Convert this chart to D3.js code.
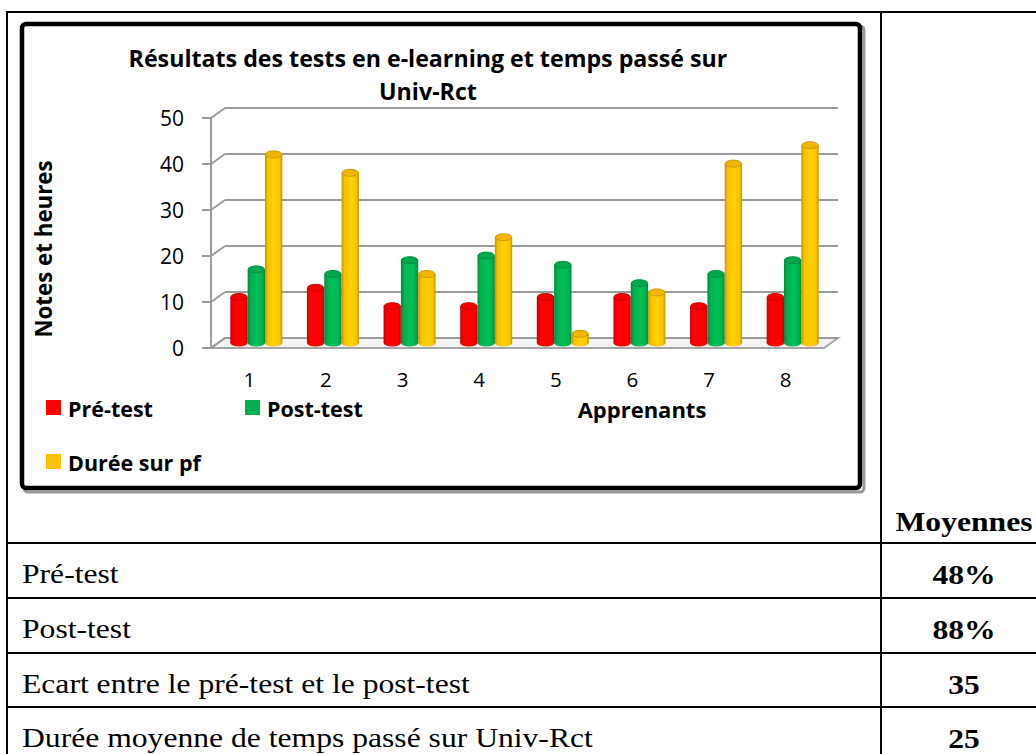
<!DOCTYPE html>
<html>
<head>
<meta charset="utf-8">
<script src="https://cdn.jsdelivr.net/npm/d3@7"></script>
<style>
  body { margin: 0; background: #fff; }
  svg { display: block; }
</style>
</head>
<body>
<svg id="page" width="1036" height="754"></svg>
<script>
// data
var apprenants = ["1", "2", "3", "4", "5", "6", "7", "8"];
var preTest  = [10, 12, 8, 8, 10, 10, 8, 10];
var postTest = [16, 15, 18, 19, 17, 13, 15, 18];
var duree    = [41, 37, 15, 23, 2, 11, 39, 43];
var seriesNames = ["Pré-test", "Post-test", "Durée sur pf"];
var seriesColours = ["#ff0000", "#00b050", "#ffc000"];
var yTicks = [0, 10, 20, 30, 40, 50];
var tableLabels = ["Pré-test", "Post-test", "Ecart entre le pré-test et le post-test",
                   "Durée moyenne de temps passé sur Univ-Rct"];
var tableValues = ["48%", "88%", "35", "25"];

var svg = d3.select("#page");
var chartFont = "'Open Sans', sans-serif",
    tableFont = "'Liberation Serif', 'Times New Roman', serif";
var stretch = 1.13; // the table text in the picture is a bit wide

//Table frame
var tableLines = [543, 598, 653, 707];
svg.append("line").attr("x1", 7).attr("x2", 1036).attr("y1", 12).attr("y2", 12)
  .attr("stroke", "#000").attr("stroke-width", 2);
svg.append("line").attr("x1", 7).attr("x2", 7).attr("y1", 11).attr("y2", 754)
  .attr("stroke", "#000").attr("stroke-width", 2);
svg.append("line").attr("x1", 881).attr("x2", 881).attr("y1", 11).attr("y2", 754)
  .attr("stroke", "#000").attr("stroke-width", 2);
svg.selectAll(".rowline")
  .data(tableLines)
  .enter()
  .append("line")
  .attr("x1", 7).attr("x2", 1036)
  .attr("y1", function(d) { return d; })
  .attr("y2", function(d) { return d; })
  .attr("stroke", "#000").attr("stroke-width", 2);

svg.append("text")
  .attr("transform", "translate(964,531) scale(" + stretch + ",1)")
  .attr("text-anchor", "middle")
  .style("font-family", tableFont)
  .style("font-weight", "bold")
  .style("font-size", "28px")
  .text("Moyennes");
svg.selectAll(".rowlabel")
  .data(tableLabels)
  .enter()
  .append("text")
  .attr("transform", function(d, i) {
    return "translate(22," + (tableLines[i] + 40) + ") scale(" + stretch + ",1)";
  })
  .style("font-family", tableFont)
  .style("font-size", "28px")
  .text(function(d) { return d; });
svg.selectAll(".rowvalue")
  .data(tableValues)
  .enter()
  .append("text")
  .attr("transform", function(d, i) {
    return "translate(964," + (tableLines[i] + 41) + ") scale(" + stretch + ",1)";
  })
  .attr("text-anchor", "middle")
  .style("font-family", tableFont)
  .style("font-weight", "bold")
  .style("font-size", "28px")
  .text(function(d) { return d; });

//Chart box with shadow
svg.append("rect")
  .attr("x", 24).attr("y", 26).attr("width", 840).attr("height", 466).attr("rx", 4)
  .attr("fill", "none").attr("stroke", "#9a9a9a").attr("stroke-width", 3);
svg.append("rect")
  .attr("x", 22).attr("y", 24).attr("width", 838).attr("height", 464).attr("rx", 4)
  .attr("fill", "#fff").attr("stroke", "#000").attr("stroke-width", 4.5);

//Scales
var depthX = 14, depthY = -10;
var x = d3.scaleBand().domain(apprenants).range([211, 824]);
var xs = d3.scaleBand().domain(seriesNames).range([0, x.bandwidth()]).paddingOuter(0.71);
var y = d3.scaleLinear().domain([0, 50]).range([348, 118]);

//Floor
var x0 = x.range()[0], x1 = x.range()[1];
svg.append("path")
  .attr("d", "M" + x0 + "," + y(0) + "L" + x1 + "," + y(0) + "L" + (x1 + depthX) + "," + (y(0) + depthY) +
             "L" + (x0 + depthX) + "," + (y(0) + depthY) + "Z")
  .attr("fill", "#f3f3f3").attr("stroke", "#a6a6a6").attr("stroke-width", 2);

//Back wall gridlines and side wall
var grid = svg.append("g");
grid.selectAll(".back")
  .data(yTicks)
  .enter()
  .append("line")
  .attr("x1", x0 + depthX).attr("x2", x1 + depthX)
  .attr("y1", function(d) { return y(d) + depthY; })
  .attr("y2", function(d) { return y(d) + depthY; })
  .attr("stroke", "#9c9c9c").attr("stroke-width", 2);
grid.selectAll(".side")
  .data(yTicks)
  .enter()
  .append("line")
  .attr("x1", x0).attr("x2", x0 + depthX)
  .attr("y1", function(d) { return y(d); })
  .attr("y2", function(d) { return y(d) + depthY; })
  .attr("stroke", "#9c9c9c").attr("stroke-width", 2);
grid.selectAll(".tick")
  .data(yTicks)
  .enter()
  .append("line")
  .attr("x1", x0 - 9).attr("x2", x0)
  .attr("y1", function(d) { return y(d); })
  .attr("y2", function(d) { return y(d); })
  .attr("stroke", "#9c9c9c").attr("stroke-width", 2);
grid.append("line")
  .attr("x1", x0).attr("x2", x0).attr("y1", y(50)).attr("y2", y(0))
  .attr("stroke", "#9c9c9c").attr("stroke-width", 2);

//Tick labels
svg.selectAll(".ylabel")
  .data(yTicks)
  .enter()
  .append("text")
  .attr("x", 184)
  .attr("y", function(d) { return y(d); })
  .attr("dy", "0.36em")
  .attr("text-anchor", "end")
  .style("font-family", chartFont)
  .style("font-size", "21px")
  .text(function(d) { return d; });
svg.selectAll(".xlabel")
  .data(apprenants)
  .enter()
  .append("text")
  .attr("x", function(d) { return x(d) + x.bandwidth() / 2; })
  .attr("y", 387)
  .attr("text-anchor", "middle")
  .style("font-family", chartFont)
  .style("font-size", "20.5px")
  .text(function(d) { return d; });

//Cylinder gradients
var defs = svg.append("defs");
seriesColours.forEach(function(c, i) {
  var dark = d3.color(c).darker(0.7), light = d3.color(c).brighter(0.25);
  var g = defs.append("linearGradient").attr("id", "cyl" + i);
  g.append("stop").attr("offset", "0%").attr("stop-color", dark);
  g.append("stop").attr("offset", "18%").attr("stop-color", c);
  g.append("stop").attr("offset", "55%").attr("stop-color", light);
  g.append("stop").attr("offset", "85%").attr("stop-color", c);
  g.append("stop").attr("offset", "100%").attr("stop-color", dark);
});

//Bars
var series = [preTest, postTest, duree];
var rows = [];
apprenants.forEach(function(a, j) {
  series.forEach(function(s, i) {
    rows.push({ cat: a, name: seriesNames[i], idx: i, value: s[j] });
  });
});
var ry = 3.5;
var bars = svg.selectAll(".bar")
  .data(rows)
  .enter()
  .append("g")
  .attr("transform", function(d) {
    return "translate(" + (x(d.cat) + xs(d.name) + depthX / 2) + "," + (depthY / 2) + ")";
  });
bars.append("rect")
  .attr("x", 0)
  .attr("width", xs.bandwidth())
  .attr("y", function(d) { return y(d.value); })
  .attr("height", function(d) { return y(0) - y(d.value); })
  .attr("fill", function(d) { return "url(#cyl" + d.idx + ")"; });
bars.append("ellipse")
  .attr("cx", xs.bandwidth() / 2)
  .attr("cy", y(0))
  .attr("rx", xs.bandwidth() / 2)
  .attr("ry", ry)
  .attr("fill", function(d) { return "url(#cyl" + d.idx + ")"; });
bars.append("ellipse")
  .attr("cx", xs.bandwidth() / 2)
  .attr("cy", function(d) { return y(d.value); })
  .attr("rx", xs.bandwidth() / 2 - 0.5)
  .attr("ry", ry)
  .attr("fill", function(d) { return d3.color(seriesColours[d.idx]).darker(0.15); })
  .attr("stroke", function(d) { return d3.color(seriesColours[d.idx]).darker(0.6); })
  .attr("stroke-width", 1);

//Titles
svg.append("text")
  .attr("x", 428).attr("y", 67)
  .attr("text-anchor", "middle")
  .style("font-family", chartFont)
  .style("font-weight", "bold")
  .style("font-size", "23.2px")
  .text("Résultats des tests en e-learning et temps passé sur");
svg.append("text")
  .attr("x", 428).attr("y", 100)
  .attr("text-anchor", "middle")
  .style("font-family", chartFont)
  .style("font-weight", "bold")
  .style("font-size", "23.2px")
  .text("Univ-Rct");
svg.append("text")
  .attr("transform", "translate(52,249) rotate(-90)")
  .attr("text-anchor", "middle")
  .style("font-family", chartFont)
  .style("font-weight", "bold")
  .style("font-size", "22.3px")
  .text("Notes et heures");
svg.append("text")
  .attr("x", 642).attr("y", 418)
  .attr("text-anchor", "middle")
  .style("font-family", chartFont)
  .style("font-weight", "bold")
  .style("font-size", "22px")
  .text("Apprenants");

//Legend
var legendPos = [[46, 400], [245, 400], [46, 454]];
var legend = svg.selectAll(".legend")
  .data(seriesNames)
  .enter()
  .append("g")
  .attr("transform", function(d, i) { return "translate(" + legendPos[i][0] + "," + legendPos[i][1] + ")"; });
legend.append("rect")
  .attr("width", 15).attr("height", 15)
  .attr("fill", function(d, i) { return seriesColours[i]; });
legend.append("text")
  .attr("x", 22).attr("y", 16.5)
  .style("font-family", chartFont)
  .style("font-weight", "bold")
  .style("font-size", "21.5px")
  .text(function(d) { return d; });
</script>
</body>
</html>
